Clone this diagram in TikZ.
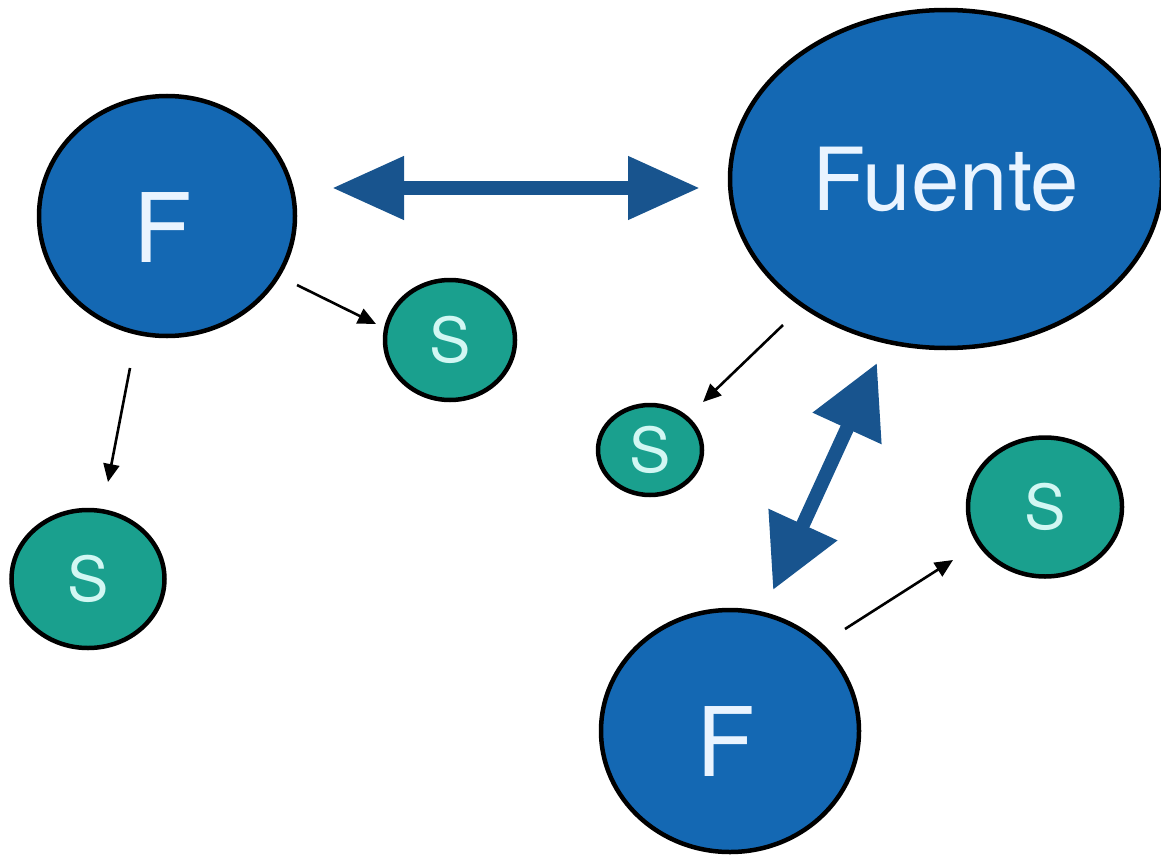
\documentclass[tikz,border=0pt]{standalone}
\usepackage{fontspec}
\setmainfont{TeX Gyre Heros}
\usetikzlibrary{arrows.meta,shapes.geometric}
\definecolor{fblue}{HTML}{1468B3}
\definecolor{darrow}{HTML}{18548E}
\definecolor{steal}{HTML}{1AA08E}
\definecolor{stext}{HTML}{D2F7F3}
\definecolor{ftext}{HTML}{EAF4FF}
\tikzset{
  fnode/.style={ellipse, draw=black, line width=4.5pt, fill=fblue, text=ftext, inner sep=0pt},
  snode/.style={ellipse, draw=black, line width=4.5pt, fill=steal, text=stext, inner sep=0pt, font=\fontsize{62}{62}\selectfont},
  bigarrow/.style={draw=darrow, line width=14pt, {Triangle[length=72pt,width=60pt]}-{Triangle[length=72pt,width=60pt]}},
  bigarrowd/.style={draw=darrow, line width=14pt, {Triangle[length=72pt,width=72pt]}-{Triangle[length=72pt,width=72pt]}},
  thinarrow/.style={draw=black, line width=2.6pt, -{Triangle[length=18pt,width=16pt]}}
}
\begin{document}
\begin{tikzpicture}[x=1pt,y=-1pt]
\useasboundingbox (0,0) rectangle (1161,856);
% F nodes
\node[fnode, minimum width=256pt, minimum height=240pt] (F1) at (167,216) {};
\node[text=ftext, font=\fontsize{96}{96}\selectfont] (F1t) at (163,228) {F};
\node[fnode, minimum width=258pt, minimum height=242pt] (F2) at (730,731) {};
\node[text=ftext, font=\fontsize{96}{96}\selectfont] (F2t) at (726,741) {F};
\node[fnode, minimum width=432pt, minimum height=338pt, font=\fontsize{87}{87}\selectfont] (Fu) at (946,179) {Fuente};
% S nodes
\node[snode, minimum width=130pt, minimum height=120pt] (S1) at (450,340) {S};
\node[snode, minimum width=104pt, minimum height=90pt] (S2) at (650,450) {S};
\node[snode, minimum width=153pt, minimum height=138pt] (S3) at (88,579) {S};
\node[snode, minimum width=154pt, minimum height=139pt] (S4) at (1045,507) {S};
% anchor coordinates for connectors
\coordinate (h1) at (332,188);
\coordinate (h2) at (700,188);
\coordinate (d1) at (877,363);
\coordinate (d2) at (773,590);
\coordinate (a1s) at (297,285);
\coordinate (a1e) at (376,324);
\coordinate (a2s) at (130,368);
\coordinate (a2e) at (108,482);
\coordinate (a3s) at (783,325);
\coordinate (a3e) at (703,402);
\coordinate (a4s) at (845,629);
\coordinate (a4e) at (953,560);
% connectors
\draw[bigarrow] (h1) -- (h2);
\draw[bigarrowd] (d1) -- (d2);
\draw[thinarrow] (a1s) -- (a1e);
\draw[thinarrow] (a2s) -- (a2e);
\draw[thinarrow] (a3s) -- (a3e);
\draw[thinarrow] (a4s) -- (a4e);
\end{tikzpicture}
\end{document}
